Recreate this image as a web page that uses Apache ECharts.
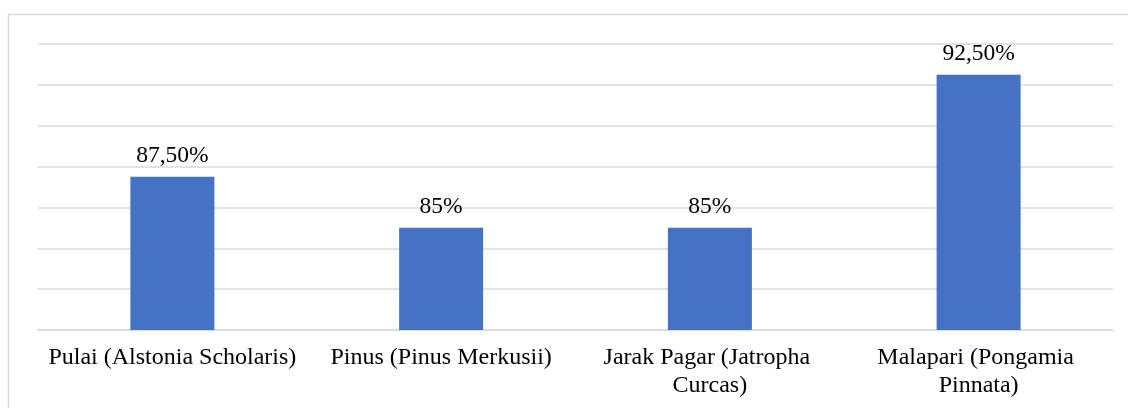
<!DOCTYPE html>
<html>
<head>
<meta charset="utf-8">
<script src="https://cdn.jsdelivr.net/npm/echarts@6/dist/echarts.min.js"></script>
<style>
  html, body { margin: 0; padding: 0; background: #fff; }
  #chart { width: 1128px; height: 408px; }
</style>
</head>
<body>
<div id="chart"></div>
<script>
// jenis tanaman
const categories = [
  'Pulai (Alstonia Scholaris)',
  'Pinus (Pinus Merkusii)',
  'Jarak Pagar (Jatropha Curcas)',
  'Malapari (Pongamia Pinnata)'
]
// persentase (%)
const values = [87.5, 85, 85, 92.5]

const fmt = v => Number.isInteger(v) ? v + '%' : v.toFixed(2).replace('.', ',') + '%'

const chart = echarts.init(document.getElementById('chart'))
chart.setOption({
  animation: false,
  textStyle: { fontFamily: '"Liberation Serif", "Times New Roman", serif' },
  graphic: [{
    type: 'rect',
    shape: { x: 8.5, y: 14.5, width: 1140, height: 420 },
    style: { fill: null, stroke: '#d9d9d9', lineWidth: 1.5 },
    silent: true
  }],
  grid: { left: 38, right: 15, top: 44, bottom: 78, containLabel: false },
  xAxis: {
    type: 'category',
    data: categories,
    axisLine: { lineStyle: { color: '#d9d9d9', width: 1.5 } },
    axisTick: { show: false },
    axisLabel: {
      interval: 0,
      margin: 14,
      color: '#000',
      fontSize: 24,
      lineHeight: 28,
      width: 262,
      overflow: 'break'
    }
  },
  yAxis: {
    type: 'value',
    min: 80,
    max: 94,
    interval: 2,
    axisLabel: { show: false },
    axisLine: { show: false },
    axisTick: { show: false },
    splitLine: { lineStyle: { color: '#d9d9d9', width: 1.5 } }
  },
  series: [{
    type: 'bar',
    data: values,
    barWidth: 84,
    itemStyle: { color: '#4472c4' },
    label: {
      show: true,
      position: 'top',
      distance: 9,
      color: '#000',
      fontSize: 23.5,
      formatter: p => fmt(p.value)
    }
  }]
})
</script>
</body>
</html>
